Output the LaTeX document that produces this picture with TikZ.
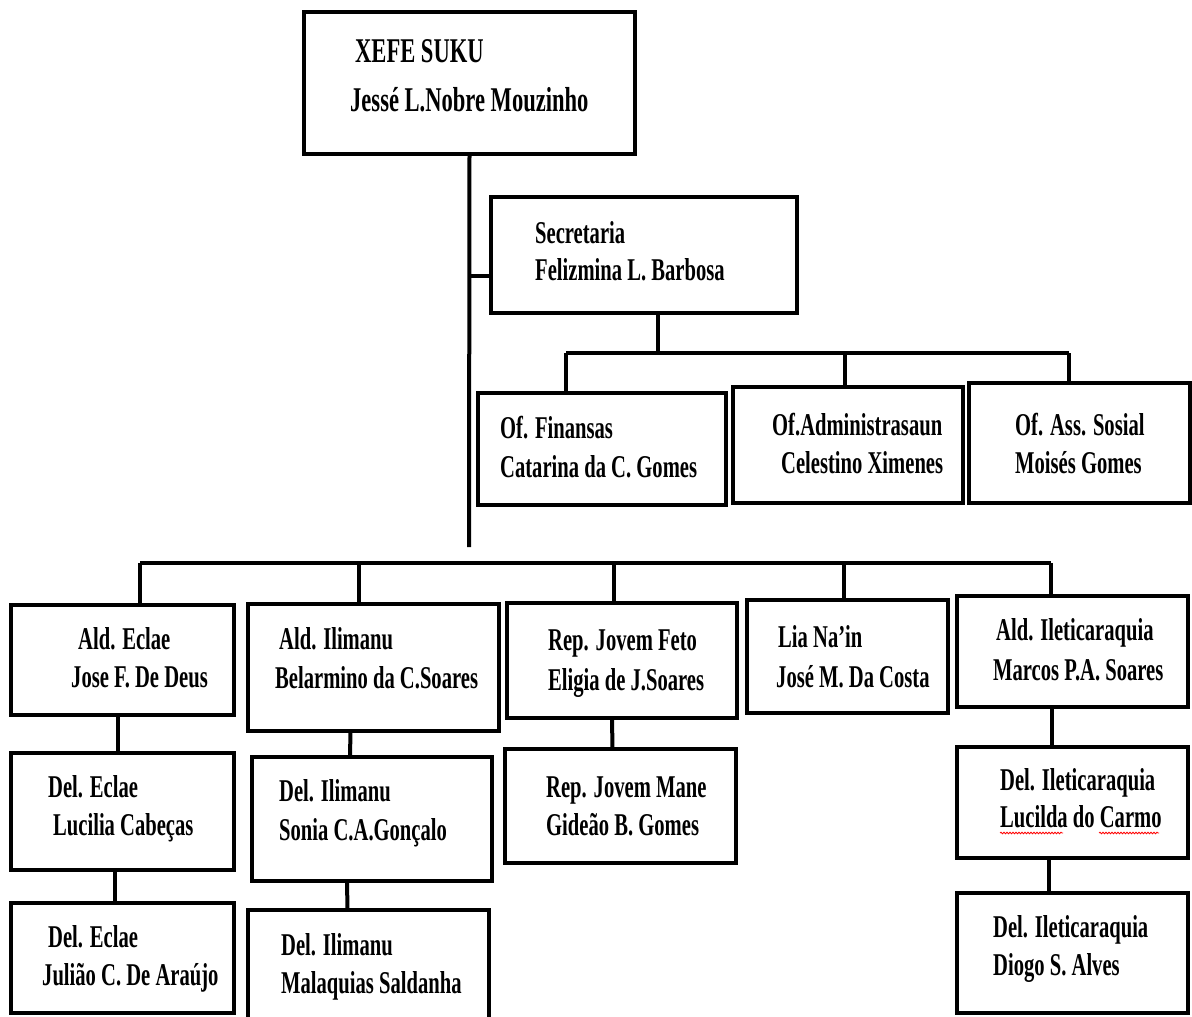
\documentclass[tikz,border=0pt]{standalone}
\usepackage{fontspec}
\setmainfont{Liberation Serif}[FakeStretch=0.65]
\usetikzlibrary{calc, decorations.pathmorphing}

\begin{document}
\begin{tikzpicture}[x=1pt, y=-1pt]

  \tikzset{unit/.style={draw, line width=4.5pt, inner sep=0pt, outer sep=0pt}}
  \tikzset{link/.style={line width=4pt}}
  \tikzset{txt/.style={anchor=base west, inner sep=0pt, font=\fontsize{31.7}{38}\selectfont\bfseries}}
  \tikzset{bigtxt/.style={txt, font=\fontsize{34.7}{42}\selectfont\bfseries}}
  \tikzset{squig/.style={red, line width=0.8pt, decorate, decoration={snake, amplitude=0.8pt, segment length=3pt}}}

  \useasboundingbox (0,0) rectangle (1192,1017);

  % boxes
  \node[unit, minimum width=331, minimum height=142] (xefe) at (469.5,83) {};
  \node[unit, minimum width=306, minimum height=116] (secr) at (644,255) {};
  \node[unit, minimum width=248, minimum height=112] (fin) at (602,449) {};
  \node[unit, minimum width=230, minimum height=116] (adm) at (848,445) {};
  \node[unit, minimum width=221, minimum height=120] (sos) at (1079.5,443) {};
  \node[unit, minimum width=223, minimum height=110] (eclae) at (122.5,660) {};
  \node[unit, minimum width=251, minimum height=127] (ilim) at (373.5,667.5) {};
  \node[unit, minimum width=230, minimum height=115] (feto) at (622,660.5) {};
  \node[unit, minimum width=201, minimum height=113] (lia) at (847.5,656.5) {};
  \node[unit, minimum width=231, minimum height=111] (ilet) at (1072.5,651.5) {};
  \node[unit, minimum width=223, minimum height=117] (deleclae) at (122.5,811.5) {};
  \node[unit, minimum width=240, minimum height=124] (delilim) at (372,819) {};
  \node[unit, minimum width=231, minimum height=114] (mane) at (620.5,806) {};
  \node[unit, minimum width=231, minimum height=111] (delilet) at (1072.5,802.5) {};
  \node[unit, minimum width=223, minimum height=110] (deleclaeb) at (122.5,958) {};
  \node[unit, minimum width=241, minimum height=130] (delilimb) at (368.5,975) {};
  \node[unit, minimum width=231, minimum height=120] (deliletb) at (1072.5,953) {};

  % texts
  \node[bigtxt] (xefe1) at (355,62) {XEFE SUKU};
  \node[bigtxt] (xefe2) at (350,111) {Jessé L.Nobre Mouzinho};
  \node[txt] (secr1) at (535,243) {Secretaria};
  \node[txt] (secr2) at (535,280) {Felizmina L. Barbosa};
  \node[txt] (fin1) at (500,438) {Of. Finansas};
  \node[txt] (fin2) at (500,477) {Catarina da C. Gomes};
  \node[txt] (adm1) at (772,435) {Of.Administrasaun};
  \node[txt] (adm2) at (781,473) {Celestino Ximenes};
  \node[txt] (sos1) at (1015,435) {Of. Ass. Sosial};
  \node[txt] (sos2) at (1015,473) {Moisés Gomes};
  \node[txt] (eclae1) at (78,649) {Ald. Eclae};
  \node[txt] (eclae2) at (71,687) {Jose F. De Deus};
  \node[txt] (ilim1) at (279,649) {Ald. Ilimanu};
  \node[txt] (ilim2) at (275,688) {Belarmino da C.Soares};
  \node[txt] (feto1) at (548,650) {Rep. Jovem Feto};
  \node[txt] (feto2) at (548,690) {Eligia de J.Soares};
  \node[txt] (lia1) at (778,647) {Lia Na’in};
  \node[txt] (lia2) at (776,687) {José M. Da Costa};
  \node[txt] (ilet1) at (996,640) {Ald. Ileticaraquia};
  \node[txt] (ilet2) at (993,680) {Marcos P.A. Soares};
  \node[txt] (deleclae1) at (48,797) {Del. Eclae};
  \node[txt] (deleclae2) at (53,835) {Lucilia Cabeças};
  \node[txt] (delilim1) at (279,801) {Del. Ilimanu};
  \node[txt] (delilim2) at (279,840) {Sonia C.A.Gonçalo};
  \node[txt] (mane1) at (546,797) {Rep. Jovem Mane};
  \node[txt] (mane2) at (546,835) {Gideão B. Gomes};
  \node[txt] (delilet1) at (1000,790) {Del. Ileticaraquia};
  \node[txt] (delilet2) at (1000,827) {Lucilda do Carmo};
  \node[txt] (deleclaeb1) at (48,947) {Del. Eclae};
  \node[txt] (deleclaeb2) at (42,985) {Julião C. De Araújo};
  \node[txt] (delilimb1) at (281,955) {Del. Ilimanu};
  \node[txt] (delilimb2) at (281,993) {Malaquias Saldanha};
  \node[txt] (deliletb1) at (993,937) {Del. Ileticaraquia};
  \node[txt] (deliletb2) at (993,975) {Diogo S. Alves};

  % spelling marks
  \draw[squig] ($(delilet2.base west)+(0,6)$) -- ++(63,0);
  \draw[squig] ($(delilet2.base west)+(99,6)$) -- ++(60,0);

  % trunk and secretaria
  \coordinate (trunkend) at (469,547);
  \coordinate (sj) at (469,276);
  \draw[link] (xefe.south) -- (trunkend);
  \draw[link] (sj) -- (sj -| secr.west);

  % offices
  \coordinate (o1) at (566,353);
  \coordinate (o2) at (845,353);
  \coordinate (o3) at (1069,353);
  \coordinate (sd) at (658,353);
  \draw[link] (sd) -- (sd |- secr.south);
  \draw[link] (o1) -- (o3);
  \draw[link] (o1) -- (o1 |- fin.north);
  \draw[link] (o2) -- (o2 |- adm.north);
  \draw[link] (o3) -- (o3 |- sos.north);

  % aldeias
  \coordinate (a1) at (140,563);
  \coordinate (a2) at (359,563);
  \coordinate (a3) at (614,563);
  \coordinate (a4) at (844,563);
  \coordinate (a5) at (1051,563);
  \draw[link] (a1) -- (a5);
  \draw[link] (a1) -- (a1 |- eclae.north);
  \draw[link] (a2) -- (a2 |- ilim.north);
  \draw[link] (a3) -- (a3 |- feto.north);
  \draw[link] (a4) -- (a4 |- lia.north);
  \draw[link] (a5) -- (a5 |- ilet.north);

  % delegados
  \draw[link] ($(eclae.south)+(-5,0)$) -- ($(deleclae.north)+(-5,0)$);
  \draw[link] ($(deleclae.south)+(-8,0)$) -- ($(deleclaeb.north)+(-8,0)$);
  \draw[link] ($(ilim.south)+(-23,0)$) -- ($(delilim.north)+(-22,0)$);
  \draw[link] ($(delilim.south)+(-25,0)$) -- ($(delilimb.north)+(-21,0)$);
  \draw[link] ($(feto.south)+(-10,0)$) -- ($(mane.north)+(-8,0)$);
  \draw[link] ($(ilet.south)+(-21,0)$) -- ($(delilet.north)+(-21,0)$);
  \draw[link] ($(delilet.south)+(-24,0)$) -- ($(deliletb.north)+(-24,0)$);
\end{tikzpicture}
\end{document}
